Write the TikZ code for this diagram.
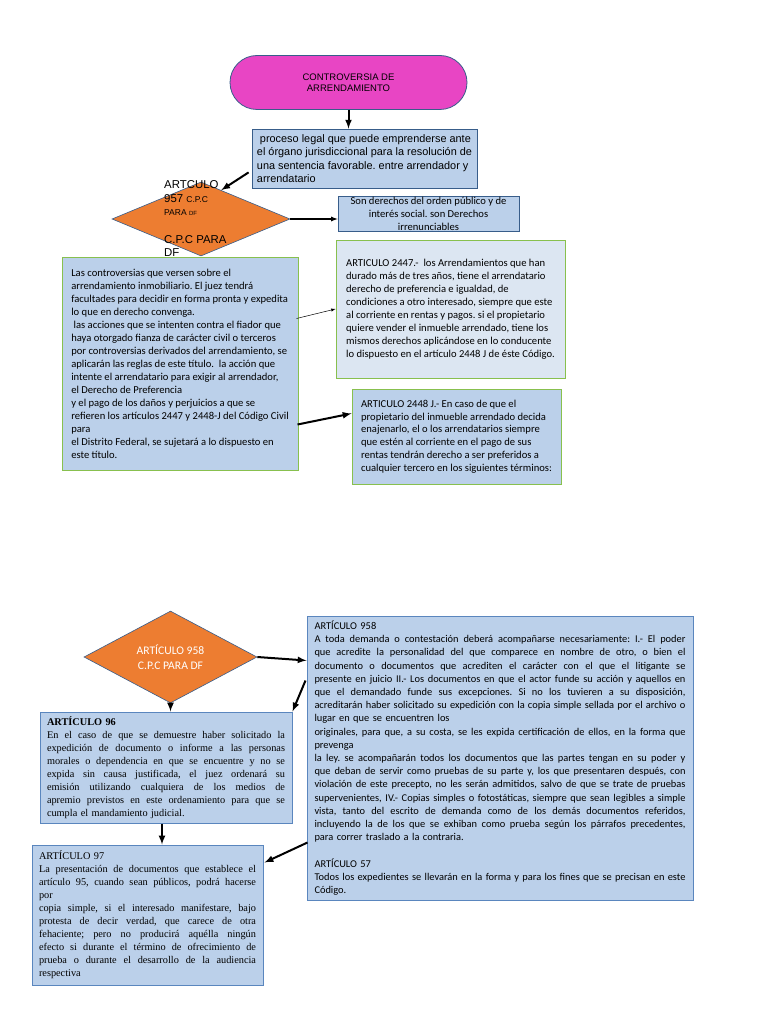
\documentclass[tikz,border=0pt]{standalone}
\usepackage{fontspec}
\setmainfont{Carlito}
\newfontfamily\arialfont{Liberation Sans}
\newfontfamily\timesfont{Liberation Serif}
\usepackage{xcolor}
\usepackage{tikz}
\usetikzlibrary{shapes,shapes.geometric,shapes.multipart}
\usetikzlibrary{calc,arrows,positioning}
\setlength{\parindent}{0pt}
\frenchspacing
\definecolor{cajaazul}{HTML}{BBD0EA}
\definecolor{cajaclara}{HTML}{DCE6F2}
\definecolor{bordeazul}{HTML}{385D8A}
\definecolor{bordecaja}{HTML}{5A86BE}
\definecolor{verde}{HTML}{88C04E}
\definecolor{rosa}{HTML}{E845C4}
\definecolor{naranja}{HTML}{ED7D31}
% linea justificada
\newcommand{\jl}[1]{\leavevmode\hbox to\hsize{\spaceskip=0pt\xspaceskip=0pt #1}}

\begin{document}
\begin{tikzpicture}[x=1pt,y=-1pt]
			\tikzstyle{pnode}=[rectangle, rounded corners=27pt, draw=bordeazul, line width=0.8pt, fill=rosa, minimum width=237pt, minimum height=54pt, align=center, font=\arialfont\fontsize{9.5}{11.5}\selectfont]
			\tikzstyle{rnode}=[diamond, draw=bordeazul, line width=0.6pt, fill=naranja, inner sep=0pt]
			\tikzstyle{abox}=[rectangle, draw=bordeazul, line width=0.8pt, fill=cajaazul, inner sep=0pt]
			\tikzstyle{gbox}=[rectangle, draw=verde, line width=1pt, fill=cajaazul, inner sep=0pt, align=left, font=\fontsize{10.6}{13}\selectfont]
			\tikzstyle{tbox}=[rectangle, draw=bordecaja, line width=1pt, fill=cajaazul, inner sep=0pt, align=left, font=\timesfont\fontsize{10.3}{13}\selectfont]
			\tikzstyle{flecha}=[-latex, line width=2pt]
			\tikzstyle{fina}=[-latex, line width=0.7pt]
			\useasboundingbox (0,0) rectangle (768,1024);
			\fill[white] (0,0) rectangle (768,1024);
			% parte de arriba
			\node[pnode] (contro) at (348.5,82.5) {CONTROVERSIA DE\\ARRENDAMIENTO};
			\node[abox, minimum width=225pt, minimum height=59pt, align=left, font=\arialfont\fontsize{10.9}{13.3}\selectfont] (proceso) at (364.5,158.5) {\ proceso legal que puede emprenderse ante\\el órgano jurisdiccional para la resolución de\\una sentencia favorable. entre arrendador y\\arrendatario};
			\node[rnode, minimum width=178pt, minimum height=74pt] (art957) at (201,219) {};
			\node[anchor=north west, inner sep=0pt, align=left, font=\arialfont\fontsize{11.4}{13.6}\selectfont] (art957t) at (164,180.5) {ARTCULO\\957 {\fontsize{8.5}{10}\selectfont C.P.C}\\{\fontsize{8.5}{10}\selectfont PARA {\fontsize{6}{7}\selectfont DF}}\\[13.6pt]C.P.C PARA\\DF};
			\node[abox, minimum width=181pt, minimum height=35pt, align=center, font=\fontsize{10.6}{13.3}\selectfont] (derechos) at (428.5,214) {Son derechos del orden público y de\\interés social. son Derechos\\irrenunciables};
			\node[gbox, minimum width=236pt, minimum height=213pt] (contras) at (180,363.5) {Las controversias que versen sobre el\\arrendamiento inmobiliario. El juez tendrá\\facultades para decidir en forma pronta y expedita\\lo que en derecho convenga.\\\ las acciones que se intenten contra el fiador que\\haya otorgado fianza de carácter civil o terceros\\por controversias derivados del arrendamiento, se\\aplicarán las reglas de este título.\ \ la acción que\\intente el arrendatario para exigir al arrendador,\\el Derecho de Preferencia\\y el pago de los daños y perjuicios a que se\\refieren los artículos 2447 y 2448-J del Código Civil\\para\\el Distrito Federal, se sujetará a lo dispuesto en\\este título.};
			\node[gbox, fill=cajaclara, minimum width=229pt, minimum height=138pt] (art2447) at (450.5,309) {ARTICULO 2447.-\ \ los Arrendamientos que han\\durado más de tres años, tiene el arrendatario\\derecho de preferencia e igualdad, de\\condiciones a otro interesado, siempre que este\\al corriente en rentas y pagos. si el propietario\\quiere vender el inmueble arrendado, tiene los\\mismos derechos aplicándose en lo conducente\\lo dispuesto en el artículo 2448 J de éste Código.};
			\node[gbox, minimum width=209pt, minimum height=95pt, font=\fontsize{10.6}{12.8}\selectfont] (art2448) at (456.5,436.5) {ARTICULO 2448 J.- En caso de que el\\propietario del inmueble arrendado decida\\enajenarlo, el o los arrendatarios siempre\\que estén al corriente en el pago de sus\\rentas tendrán derecho a ser preferidos a\\cualquier tercero en los siguientes términos:};
			% parte de abajo
			\node[rnode, minimum width=173pt, minimum height=74pt, align=center, text=white, font=\fontsize{11.6}{14.5}\selectfont] (art958) at (170.5,657) {ARTÍCULO 958\\C.P.C PARA DF};
			\node[tbox, font=\fontsize{10.4}{13.2}\selectfont, minimum width=386pt, minimum height=284pt, text width=371pt] (art958b) at (500,758) {ARTÍCULO 958\\
\jl{A toda demanda o contestación deberá acompañarse necesariamente: I.- El poder}\\
\jl{que acredite la personalidad del que comparece en nombre de otro, o bien el}\\
\jl{documento o documentos que acrediten el carácter con el que el litigante se}\\
\jl{presente en juicio II.- Los documentos en que el actor funde su acción y aquellos en}\\
\jl{que el demandado funde sus excepciones. Si no los tuvieren a su disposición,}\\
\jl{acreditarán haber solicitado su expedición con la copia simple sellada por el archivo o}\\
lugar en que se encuentren los\\
\jl{originales, para que, a su costa, se les expida certificación de ellos, en la forma que}\\
prevenga\\
\jl{la ley. se acompañarán todos los documentos que las partes tengan en su poder y}\\
\jl{que deban de servir como pruebas de su parte y, los que presentaren después, con}\\
\jl{violación de este precepto, no les serán admitidos, salvo de que se trate de pruebas}\\
\jl{supervenientes, IV.- Copias simples o fotostáticas, siempre que sean legibles a simple}\\
\jl{vista, tanto del escrito de demanda como de los demás documentos referidos,}\\
\jl{incluyendo la de los que se exhiban como prueba según los párrafos precedentes,}\\
para correr traslado a la contraria.\\[13.2pt]
ARTÍCULO 57\\
\jl{Todos los expedientes se llevarán en la forma y para los fines que se precisan en este}\\
Código.};
			\node[tbox, minimum width=252pt, minimum height=111pt, text width=238pt] (art96) at (166,767.5) {{\bfseries ARTÍCULO 96}\\
\jl{En el caso de que se demuestre haber solicitado la}\\
\jl{expedición de documento o informe a las personas}\\
\jl{morales o dependencia en que se encuentre y no se}\\
\jl{expida sin causa justificada, el juez ordenará su}\\
\jl{emisión utilizando cualquiera de los medios de}\\
\jl{apremio previstos en este ordenamiento para que se}\\
cumpla el mandamiento judicial.};
			\node[tbox, minimum width=231pt, minimum height=140pt, text width=217pt] (art97) at (147.5,915) {ARTÍCULO 97\\
\jl{La presentación de documentos que establece el}\\
\jl{artículo 95, cuando sean públicos, podrá hacerse}\\
por\\
\jl{copia simple, si el interesado manifestare, bajo}\\
\jl{protesta de decir verdad, que carece de otra}\\
\jl{fehaciente; pero no producirá aquélla ningún}\\
\jl{efecto si durante el término de ofrecimiento de}\\
\jl{prueba o durante el desarrollo de la audiencia}\\
respectiva};
			% flechas
			\coordinate (sal96) at ($(art96.south)+(-4,0)$);
			\draw[flecha] (contro.south) -- (contro.south |- proceso.north);
			\draw[flecha] ($(proceso.south west)+(-3,-16)$) -- (art957.55);
			\draw[line width=1.2pt, -latex] (art957.east) -- (art957.east -| derechos.west);
			\draw[fina, line width=0.5pt] ($(contras.north east)+(-2,62)$) -- (art2447.west);
			\draw[flecha] ($(contras.east)+(-1,61)$) -- ($(art2448.north west)+(0,25)$);
			\draw[flecha] (art958.east) -- ($(art958b.north west)+(0,45)$);
			\draw[flecha] ($(art958b.north west)+(-1,65)$) -- (art96.north east);
			\draw[flecha] (art958.south) -- (art958.south |- art96.north);
			\draw[flecha] (sal96) -- (sal96 |- art97.north);
			\draw[flecha] ($(art958b.south west)+(1,-58)$) -- ($(art97.north east)+(1,18)$);
		\end{tikzpicture}
\end{document}
